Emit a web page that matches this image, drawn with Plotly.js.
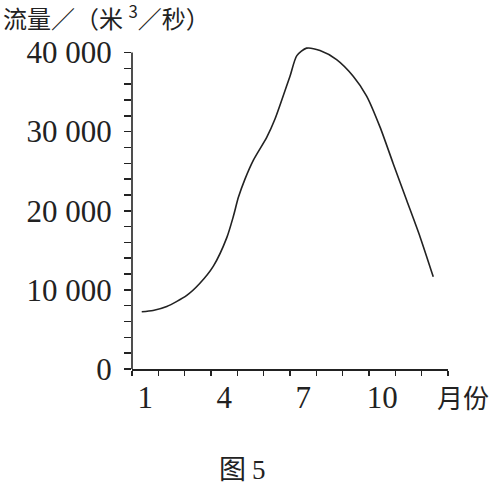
<!DOCTYPE html>
<html>
<head>
<meta charset="utf-8">
<script src="https://cdn.plot.ly/plotly-3.0.1.min.js"></script>
<style>html,body{margin:0;padding:0;background:#fff;}#chart{width:495px;height:486px;}</style>
</head>
<body>
<div id="chart"></div>
<script>
// Monthly river discharge (m^3/s)
const months = [0.87, 1.3, 1.82, 2.58, 3.07, 3.59, 4.1, 4.35, 4.54, 4.79, 5.11, 5.62, 5.93, 6.25, 6.5, 6.76, 7.13, 7.64, 8.27, 8.9, 9.41, 9.92, 10.42, 10.93, 11.44, 11.94];
const flow = [7230, 7400, 7900, 9300, 10800, 13000, 16600, 19300, 21700, 24000, 26400, 29310, 31600, 34600, 37000, 39600, 40550, 40250, 39100, 37000, 34500, 30570, 25950, 21320, 16690, 11650];

const xTickVals = [1, 4, 7, 10];
const xTickText = ["1", "4", "7", "10"];
const yTickVals = [0, 10000, 20000, 30000, 40000];
const yTickText = ["0", "10 000", "20 000", "30 000", "40 000"];

const yTitle = "流量／（米 <sup>3</sup>／秒）";
const xTitle = "月份";
const caption = "图 <span style=\"font-family:'Liberation Serif'\">5</span>";

const serif = "'Liberation Serif', 'Times New Roman', serif";
const cjk = "'Noto Sans CJK SC', 'Liberation Serif', serif";

// plot area in pixels: x 132..448, y 42.5..369 ; y range 0..41200
const L = 132, W = 316, B = 369, H = 326.5;
const px = v => (v - L) / W;
const py = v => (B - v) / H;

const trace = {
  x: months, y: flow, type: "scatter", mode: "lines",
  line: {shape: "spline", smoothing: 0.7, color: "#222", width: 1.6},
  hoverinfo: "skip"
};

const layout = {
  width: 495, height: 486,
  margin: {l: 132, r: 47, t: 42.5, b: 117},
  paper_bgcolor: "#fff", plot_bgcolor: "#fff",
  showlegend: false,
  font: {family: serif, color: "#222", size: 31},
  xaxis: {
    range: [0.5, 12.5], showgrid: false, zeroline: false,
    showline: true, linecolor: "#222", linewidth: 1.6,
    tickvals: xTickVals, ticktext: xTickText, ticks: "",
    ticklabelstandoff: 0,
    tickfont: {family: serif, size: 31, color: "#222"},
    minor: {tick0: 0.5, dtick: 1, ticks: "outside", ticklen: 5, tickwidth: 1.5, tickcolor: "#222", showgrid: false}
  },
  yaxis: {
    range: [0, 41200], showgrid: false, zeroline: false,
    showline: false,
    tickvals: yTickVals, ticktext: yTickText,
    ticks: "outside", ticklen: 7, tickwidth: 1.5, tickcolor: "#222",
    ticklabelstandoff: 6,
    tickfont: {family: serif, size: 31, color: "#222"},
    minor: {dtick: 2000, ticks: "outside", ticklen: 7, tickwidth: 1.5, tickcolor: "#222", showgrid: false}
  },
  shapes: [
    {type: "line", xref: "paper", yref: "y", x0: 0, x1: 0, y0: 0, y1: 40000,
     line: {color: "#222", width: 1.6}}
  ],
  annotations: [
    {text: yTitle, xref: "paper", yref: "paper", x: px(1), y: py(16), xanchor: "left", yanchor: "middle",
     showarrow: false, font: {family: cjk, size: 24, color: "#222"}},
    {text: xTitle, xref: "paper", yref: "paper", x: px(491), y: py(397), xanchor: "right", yanchor: "middle",
     showarrow: false, font: {family: cjk, size: 26, color: "#222"}},
    {text: caption, xref: "paper", yref: "paper", x: px(242), y: py(468), xanchor: "center", yanchor: "middle",
     showarrow: false, font: {family: cjk, size: 27, color: "#222"}}
  ]
};

Plotly.newPlot("chart", [trace], layout, {staticPlot: true, displayModeBar: false});
</script>
</body>
</html>
